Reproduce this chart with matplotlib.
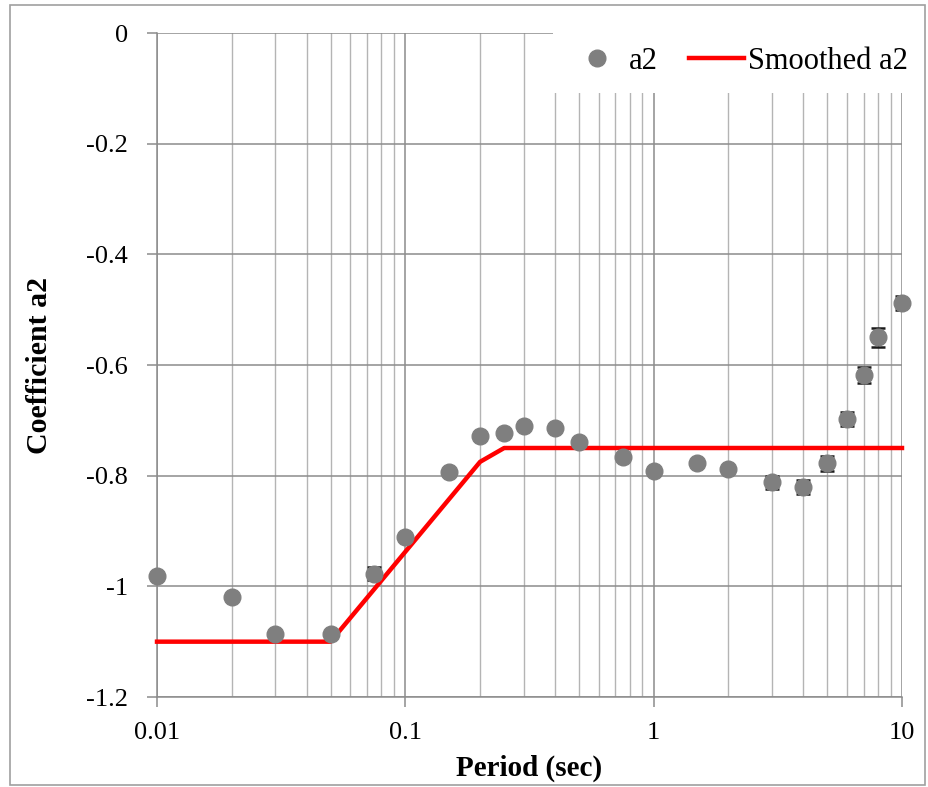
import matplotlib
matplotlib.use("Agg")
import matplotlib.pyplot as plt
from matplotlib.patches import Rectangle
from matplotlib.ticker import LogLocator, FixedLocator, FuncFormatter, NullFormatter

plt.rcParams['font.family'] = ['Liberation Serif', 'DejaVu Serif']
plt.rcParams['axes.unicode_minus'] = False

# dati ---------------------------------------------------------------
period = [0.01, 0.02, 0.03, 0.05, 0.075, 0.1, 0.15, 0.2, 0.25, 0.3, 0.4, 0.5,
          0.75, 1.0, 1.5, 2.0, 3.0, 4.0, 5.0, 6.0, 7.0, 8.0, 10.0]
a2 = [-0.982, -1.020, -1.086, -1.086, -0.977, -0.910, -0.794, -0.729, -0.722,
      -0.711, -0.714, -0.740, -0.767, -0.792, -0.778, -0.788, -0.812, -0.821,
      -0.778, -0.698, -0.618, -0.550, -0.488]
a2_err = [0.0, 0.0, 0.0, 0.0, 0.012, 0.0, 0.0, 0.0, 0.0, 0.0, 0.0, 0.0,
          0.0, 0.0, 0.0, 0.0, 0.012, 0.013, 0.013, 0.013, 0.014, 0.017, 0.013]

smooth_period = [0.01, 0.05, 0.2, 0.25, 10.0]
smooth_a2 = [-1.10, -1.10, -0.775, -0.75, -0.75]

y_ticks = [0, -0.2, -0.4, -0.6, -0.8, -1.0, -1.2]
x_ticks = [0.01, 0.1, 1, 10]

# grafico ------------------------------------------------------------
fig = plt.figure(figsize=(9.29, 7.87), dpi=100)
ax = fig.add_axes([157/929, 1 - 697/787, (902 - 157)/929, (697 - 33)/787])

ax.set_xscale("log")
ax.set_xlim(0.01, 10)
ax.set_ylim(-1.2, 0)

ax.xaxis.set_major_locator(FixedLocator(x_ticks))
ax.xaxis.set_major_formatter(FuncFormatter(lambda v, p: "%g" % v))
ax.xaxis.set_minor_locator(LogLocator(base=10, subs=range(2, 10)))
ax.xaxis.set_minor_formatter(NullFormatter())
ax.yaxis.set_major_locator(FixedLocator(y_ticks))
ax.yaxis.set_major_formatter(FuncFormatter(lambda v, p: "%g" % round(v, 1)))

ax.grid(True, which="major", color="#8c8c8c", linewidth=1.1)
ax.grid(True, which="minor", axis="x", color="#b4b4b4", linewidth=1.0)
ax.set_axisbelow(True)

for side in ["top", "right"]:
    ax.spines[side].set_visible(False)
for side in ["left", "bottom"]:
    ax.spines[side].set_color("#8c8c8c")
    ax.spines[side].set_linewidth(1.1)

ax.tick_params(which="major", direction="out", length=7, width=1.1, color="#8c8c8c",
               labelsize=19)
ax.tick_params(axis="x", pad=11)
ax.tick_params(axis="y", pad=14)
ax.tick_params(which="minor", length=0)

ax.errorbar(period, a2, yerr=a2_err, fmt="none", ecolor="#1a1a1a", elinewidth=1.0,
            capsize=5, capthick=1.8, zorder=3)
ax.plot(smooth_period, smooth_a2, color="#ff0000", linewidth=3.2,
        label="Smoothed a2", zorder=4, clip_on=False)
ax.plot(period, a2, linestyle="none", marker="o", markersize=12,
        color="#7f7f7f", label="a2", zorder=5, clip_on=False)

handles, labels = ax.get_legend_handles_labels()
leg = ax.legend(handles[::-1], labels[::-1], loc="upper right", ncol=2,
                bbox_to_anchor=(925/929, 1 - 30/787), bbox_transform=fig.transFigure,
                prop={"size": 22}, frameon=True, facecolor="white", edgecolor="none",
                framealpha=1, borderpad=0.55, handlelength=1.8, handletextpad=0.15,
                columnspacing=1.0, borderaxespad=0, fancybox=False)
leg.set_zorder(6)

ax.set_xlabel("Period (sec)", fontsize=21, fontweight="bold")
ax.xaxis.set_label_coords(0.5, (697 - 768) / 664)
ax.xaxis.label.set_va("center")
ax.set_ylabel("Coefficient a2", fontsize=21.5, fontweight="bold")
ax.yaxis.set_label_coords((40 - 157) / 745, 0.5)
ax.yaxis.label.set_va("center")

fig.patches.append(Rectangle((10/929, 1 - 785/787), 915/929, 780/787,
                             transform=fig.transFigure, fill=False,
                             edgecolor="#a0a0a0", linewidth=1.2))

fig.savefig("out.png", dpi=100)
